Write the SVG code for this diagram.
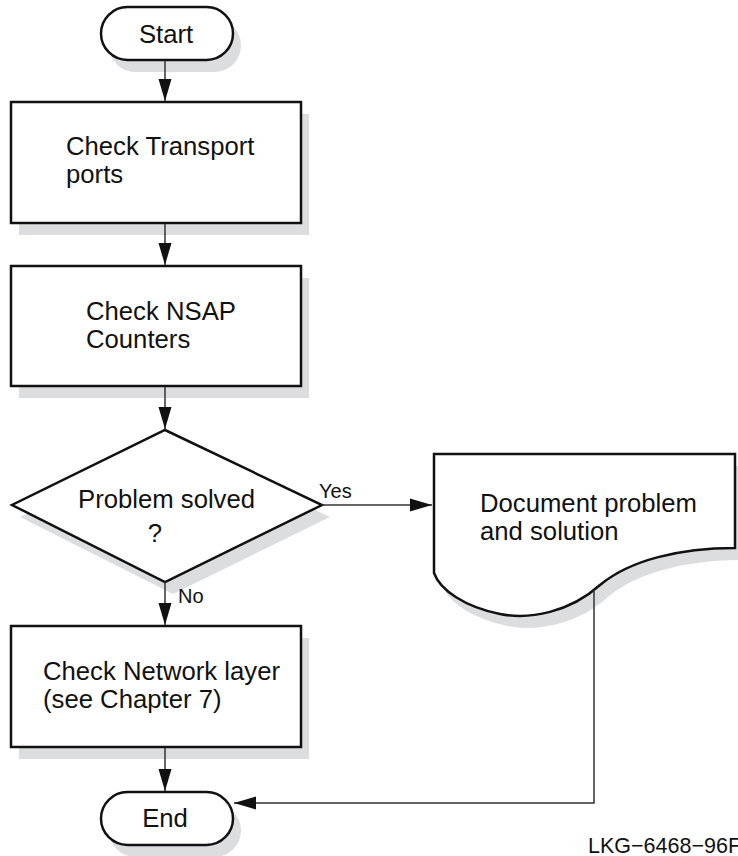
<svg xmlns="http://www.w3.org/2000/svg" width="738" height="856" viewBox="0 0 738 856">
<style>
.shadow{fill:#dcdddf;stroke:none}
.node{fill:#ffffff;stroke:#111111;stroke-width:2.5}
.txt{font-family:"Liberation Sans",Arial,sans-serif;font-size:25.7px;fill:#111111}
.lbl{font-family:"Liberation Sans",Arial,sans-serif;font-size:20px;fill:#111111}
.conn{fill:none;stroke:#333333;stroke-width:1.5}
</style>
<defs>
<marker id="arr" markerWidth="22" markerHeight="14" refX="22" refY="7" orient="auto" markerUnits="userSpaceOnUse">
<path d="M0,0.5 L22,7 L0,13.5 Z" fill="#111111"/>
</marker>
</defs>
<rect width="738" height="856" fill="#ffffff"/>

<g id="start">
<rect class="shadow" x="109" y="19" width="132" height="53" rx="26.5"/>
<rect class="node" x="101" y="7" width="132" height="53" rx="26.5"/>
<text class="txt" x="166" y="43" text-anchor="middle">Start</text>
</g>

<g id="check-transport">
<rect class="shadow" x="19" y="114" width="290" height="121"/>
<rect class="node" x="11" y="102" width="290" height="121"/>
<text class="txt" x="66" y="155">Check Transport</text>
<text class="txt" x="66" y="183">ports</text>
</g>

<g id="check-nsap">
<rect class="shadow" x="19" y="278" width="290" height="120"/>
<rect class="node" x="11" y="266" width="290" height="120"/>
<text class="txt" x="86" y="320">Check NSAP</text>
<text class="txt" x="86" y="348">Counters</text>
</g>

<g id="problem-solved">
<polygon class="shadow" points="173,442 330,517 173,594 20,517"/>
<polygon class="node" points="165,430 322,505 165,582 12,505"/>
<text class="txt" x="78" y="508">Problem solved</text>
<text class="txt" x="155" y="542" text-anchor="middle">?</text>
</g>

<g id="document">
<path class="shadow" d="M442,466 H743 V560 C688,560 638,572 608,597 C578,624 538,632 508,626 C473,619 448,602 442,585 Z"/>
<path class="node" d="M434,454 H735 V548 C680,548 630,560 600,585 C570,612 530,620 500,614 C465,607 440,590 434,573 Z"/>
<text class="txt" x="480" y="512">Document problem</text>
<text class="txt" x="480" y="540">and solution</text>
</g>

<g id="check-network">
<rect class="shadow" x="19" y="638" width="290" height="121"/>
<rect class="node" x="11" y="626" width="290" height="121"/>
<text class="txt" x="43" y="680">Check Network layer</text>
<text class="txt" x="43" y="708">(see Chapter 7)</text>
</g>

<g id="end">
<rect class="shadow" x="109" y="804" width="132" height="53" rx="26.5"/>
<rect class="node" x="101" y="792" width="132" height="53" rx="26.5"/>
<text class="txt" x="165" y="827" text-anchor="middle">End</text>
</g>

<g id="connectors">
<line class="conn" x1="165" y1="61" x2="165" y2="101" marker-end="url(#arr)"/>
<line class="conn" x1="165" y1="224" x2="165" y2="265" marker-end="url(#arr)"/>
<line class="conn" x1="165" y1="387" x2="165" y2="429" marker-end="url(#arr)"/>
<line class="conn" x1="322" y1="505" x2="432" y2="505" marker-end="url(#arr)"/>
<line class="conn" x1="165" y1="582" x2="165" y2="625" marker-end="url(#arr)"/>
<line class="conn" x1="165" y1="748" x2="165" y2="791" marker-end="url(#arr)"/>
<polyline class="conn" points="594,590 594,803 234,803" marker-end="url(#arr)"/>
<text class="lbl" x="319" y="498">Yes</text>
<text class="lbl" x="178" y="603">No</text>
</g>

<text class="lbl" x="588" y="853" style="font-size:21.5px">LKG−6468−96F</text>
</svg>
